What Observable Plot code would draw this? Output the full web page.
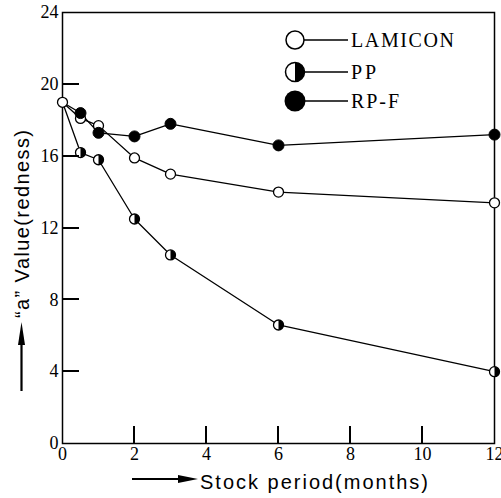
<!DOCTYPE html>
<html><head><meta charset="utf-8">
<script src="https://cdn.jsdelivr.net/npm/d3@7"></script>
<script src="https://cdn.jsdelivr.net/npm/@observablehq/plot@0.6"></script>
<style>body{margin:0;background:#fff} svg{display:block}</style>
</head><body><div id="chart"></div>
<script>
const months = [0, 0.5, 1, 2, 3, 6, 12];
const seriesNames = ["LAMICON", "PP", "RP-F"];
const lamicon = [19.0, 18.1, 17.7, 15.9, 15.0, 14.0, 13.4];
const pp = [19.0, 16.2, 15.8, 12.5, 10.5, 6.6, 4.0];
const rpf = [19.0, 18.4, 17.3, 17.1, 17.8, 16.6, 17.2];
const xTicks = [0, 2, 4, 6, 8, 10, 12];
const yTicks = [0, 4, 8, 12, 16, 20, 24];
const xLabel = "Stock period(months)";
const yLabel = "“a” Value(redness)";

const toRows = (name, vals) => months.map((m, i) => ({series: name, month: m, value: vals[i]}));
const rowsL = toRows(seriesNames[0], lamicon);
const rowsP = toRows(seriesNames[1], pp);
const rowsR = toRows(seriesNames[2], rpf);
const all = [...rowsL, ...rowsP, ...rowsR];

const halfRight = {draw(ctx, size) {
  const r = Math.sqrt(size / Math.PI);
  ctx.moveTo(0, -r); ctx.arc(0, 0, r, -Math.PI / 2, Math.PI / 2); ctx.closePath();
}};

const serif = "'Liberation Serif', 'DejaVu Serif', serif";
const sans = "'Liberation Sans', 'DejaVu Sans', sans-serif";

const W = 501, H = 498, ML = 62, MR = 7, MT = 12, MB = 55, TICK = 17;

const chart = Plot.plot({
  width: W, height: H,
  marginLeft: ML, marginRight: MR, marginTop: MT, marginBottom: MB,
  style: {fontFamily: serif, fontSize: "18px", color: "black", background: "white"},
  x: {domain: [0, 12]},
  y: {domain: [0, 24]},
  marks: [
    Plot.frame({stroke: "black", fill: "none", strokeWidth: 1.5}),
    Plot.axisY({ticks: yTicks, tickSize: 0, tickPadding: 4, label: null}),
    Plot.axisX({ticks: xTicks, tickSize: 0, tickPadding: 4, label: null}),
    Plot.line(all, {x: "month", y: "value", z: "series", stroke: "black", strokeWidth: 1.3}),
    Plot.dot(rowsL, {x: "month", y: "value", r: 5, fill: "white", stroke: "black", strokeWidth: 1.3}),
    Plot.dot(rowsP.slice(1), {x: "month", y: "value", r: 5, fill: "white", stroke: "black", strokeWidth: 1.3}),
    Plot.dot(rowsP.slice(1), {x: "month", y: "value", r: 5, symbol: halfRight, fill: "black", stroke: "none"}),
    Plot.dot(rowsR.slice(1), {x: "month", y: "value", r: 5.5, fill: "black", stroke: "black", strokeWidth: 1})
  ]
});
document.getElementById("chart").appendChild(chart);

const svg = d3.select(chart);
// inward tick marks (same linear mapping as the plot's x and y scales)
const fx = d3.scaleLinear([0, 12], [ML, W - MR]);
const fy = d3.scaleLinear([0, 24], [H - MB, MT]);
const tickG = svg.append("g");
yTicks.slice(1, -1).forEach(t => {
  const y = Math.round(fy(t));
  tickG.append("path").attr("d", `M${ML},${y}H${ML + TICK}`)
    .attr("fill", "none").attr("stroke", "#000").attr("stroke-width", 2);
});
xTicks.slice(1, -1).forEach(t => {
  const x = Math.round(fx(t));
  tickG.append("path").attr("d", `M${x},${H - MB}V${H - MB - TICK}`)
    .attr("fill", "none").attr("stroke", "#000").attr("stroke-width", 2);
});
// legend
const legY = [40, 72, 101];
const legG = svg.append("g").attr("text-anchor", "start");
seriesNames.forEach((name, i) => {
  const y = legY[i];
  legG.append("line").attr("x1", 303).attr("x2", 348).attr("y1", y).attr("y2", y)
    .attr("stroke", "black").attr("stroke-width", 1.4);
  if (i === 0) {
    legG.append("circle").attr("cx", 295).attr("cy", y).attr("r", 9).attr("fill", "white").attr("stroke", "black").attr("stroke-width", 1.5);
  } else if (i === 1) {
    legG.append("circle").attr("cx", 295).attr("cy", y).attr("r", 9.5).attr("fill", "white").attr("stroke", "black").attr("stroke-width", 1.5);
    legG.append("path").attr("d", `M295,${y - 9.5} A9.5,9.5 0 0 1 295,${y + 9.5} Z`).attr("fill", "black");
  } else {
    legG.append("circle").attr("cx", 295).attr("cy", y).attr("r", 10.5).attr("fill", "black");
  }
  const widths = [103, 25, 48];
  legG.append("text").attr("x", 351).attr("y", y + 7).text(name)
    .attr("text-anchor", "start")
    .attr("font-family", serif).attr("font-size", 20).attr("fill", "black")
    .attr("textLength", widths[i]).attr("lengthAdjust", "spacing");
});
// y label + arrow
svg.append("text").attr("transform", "translate(29,224) rotate(-90)")
  .attr("text-anchor", "middle").attr("font-family", sans).attr("font-size", 20)
  .attr("fill", "black")
  .attr("textLength", 188).attr("lengthAdjust", "spacing").text(yLabel);
svg.append("line").attr("x1", 21.5).attr("x2", 21.5).attr("y1", 391).attr("y2", 338)
  .attr("stroke", "black").attr("stroke-width", 2.2);
svg.append("path").attr("d", "M21.5,322 L25,345 L18,345 Z").attr("fill", "black");
// x label + arrow
svg.append("text").attr("x", 200).attr("y", 489)
  .attr("text-anchor", "start").attr("fill", "black")
  .attr("font-family", sans).attr("font-size", 20)
  .attr("textLength", 228).attr("lengthAdjust", "spacing").text(xLabel);
svg.append("line").attr("x1", 132).attr("x2", 185).attr("y1", 479).attr("y2", 479)
  .attr("stroke", "black").attr("stroke-width", 2);
svg.append("path").attr("d", "M198,479 L178,475 L178,483 Z").attr("fill", "black");
</script>
</body></html>
